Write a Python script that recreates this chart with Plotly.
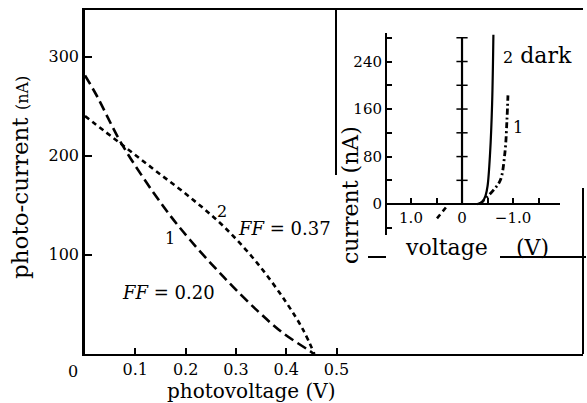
import plotly.graph_objects as go

# ---- main chart data (photovoltage V, photo-current nA) ----
v1 = [0.0, 0.024, 0.074, 0.157, 0.209, 0.275, 0.342, 0.394, 0.447, 0.455]
i1 = [281, 260, 211, 148, 115, 78, 44, 21, 3, 0]
v2 = [0.0, 0.074, 0.14, 0.209, 0.275, 0.342, 0.400, 0.434, 0.456]
i2 = [240, 211, 185, 158, 129, 92, 52, 24, 0]
main_xticks = [0.1, 0.2, 0.3, 0.4, 0.5]
main_yticks = [100, 200, 300]

# ---- inset data (voltage V, current nA) ----
dark_v = [-0.30, -0.40, -0.46, -0.50, -0.55, -0.59, -0.615]
dark_i = [0, 4, 14, 30, 86, 170, 285]
c1_v = [-0.35, -0.49, -0.62, -0.75, -0.84, -0.88, -0.90]
c1_i = [0, 12, 24, 40, 86, 141, 183]
rev_v = [0.49, 0.29]
rev_i = [-24, -3]
zero_axis_i = [0, 40, 80, 120, 160, 200, 240, 280]
inset_xticks = [1.5, 1.0, 0.5, 0.0, -0.5, -1.0, -1.5]
inset_xtext = ["", "1.0", "", "0", "", "\u22121.0", ""]
inset_yticks = [-40, 0, 40, 80, 120, 160, 200, 240, 280]
inset_ytext = ["", "0", "", "80", "", "160", "", "240", ""]

W, H = 587, 403
L, R, T, B = 85, 4, 10, 49
PW, PH = W - L - R, H - T - B
FONT = "DejaVu Serif"


def px(x):
    return (x - L) / PW


def py(y):
    return (H - B - y) / PH


fig = go.Figure()

fig.add_trace(go.Scatter(x=v1, y=i1, mode="lines", line_shape="spline",
                         line=dict(color="black", width=2.6, dash="10px,5px"),
                         showlegend=False))
fig.add_trace(go.Scatter(x=v2, y=i2, mode="lines", line_shape="spline",
                         line=dict(color="black", width=2.6, dash="5px,4px"),
                         showlegend=False))

# inset traces
fig.add_trace(go.Scatter(x=[0] * len(zero_axis_i), y=zero_axis_i, mode="lines+markers",
                         line=dict(color="black", width=2.2),
                         marker=dict(symbol="line-ew-open", size=8, line=dict(width=1.5, color="black")),
                         xaxis="x2", yaxis="y2", showlegend=False))
fig.add_trace(go.Scatter(x=dark_v, y=dark_i, mode="lines", line_shape="spline",
                         line=dict(color="black", width=2.2),
                         xaxis="x2", yaxis="y2", showlegend=False))
fig.add_trace(go.Scatter(x=c1_v, y=c1_i, mode="lines", line_shape="spline",
                         line=dict(color="black", width=2.8, dash="6px,3px,2px,3px"),
                         xaxis="x2", yaxis="y2", showlegend=False))
fig.add_trace(go.Scatter(x=rev_v, y=rev_i, mode="lines",
                         line=dict(color="black", width=2.6, dash="5px,4px"),
                         xaxis="x2", yaxis="y2", showlegend=False))

ann = []


def text(x, y, s, size, angle=0, xanchor="center"):
    ann.append(dict(x=px(x), y=py(y), xref="paper", yref="paper", text=s, showarrow=False,
                    font=dict(family=FONT, size=size, color="black"), textangle=angle,
                    xanchor=xanchor, yanchor="middle"))


text(20, 178, "photo-current <span style='font-size:16px'>(nA)</span>", 23, angle=-90)
text(251, 391, "photovoltage (V)", 20)
text(73, 371, "0", 16)
text(222, 212, "2", 16)
text(284, 228, "<i>FF</i> = 0.37", 18)
text(170, 238, "1", 16)
text(168, 292, "<i>FF</i> = 0.20", 18)
text(537, 55, "<span style='font-size:16px'>2</span> dark", 22)
text(518, 127, "1", 16)
text(350, 195, "current (nA)", 22, angle=-90)
text(446, 247, "voltage", 22)
text(532, 247, "(V)", 22)

shapes = []


def seg(x0, y0, x1, y1, w=2):
    shapes.append(dict(type="line", xref="paper", yref="paper", x0=px(x0), y0=py(y0),
                       x1=px(x1), y1=py(y1), line=dict(color="black", width=w)))


seg(583, 188, 583, 354, 2)
seg(336, 10, 336, 175, 2)
seg(368, 257, 386, 257, 2)
seg(500, 257, 586, 257, 2)

inset_x_dom = [px(387), px(560)]
inset_y_dom = [py(235), py(33)]

fig.update_layout(
    width=W, height=H, autosize=False,
    margin=dict(l=L, r=R, t=T, b=B, autoexpand=False),
    paper_bgcolor="white", plot_bgcolor="white",
    font=dict(family=FONT, color="black"),
    annotations=ann, shapes=shapes,
    xaxis=dict(range=[0, 0.99], showgrid=False, zeroline=False, showline=True, automargin=False,
               linecolor="black", linewidth=2, mirror=True,
               ticks="inside", ticklen=6, tickwidth=1.5, tickcolor="black",
               tickvals=main_xticks, ticktext=[f"{t:.1f}" for t in main_xticks],
               tickfont=dict(family=FONT, size=16)),
    yaxis=dict(range=[0, 347], showgrid=False, zeroline=False, showline=True, automargin=False,
               linecolor="black", linewidth=2.6,
               ticks="inside", ticklen=7, tickwidth=1.5, tickcolor="black",
               tickvals=main_yticks, ticktext=[str(t) for t in main_yticks],
               tickfont=dict(family=FONT, size=16)),
    xaxis2=dict(domain=inset_x_dom, range=[1.47, -1.92], anchor="free", position=py(204),
                automargin=False,
                showgrid=False, zeroline=False, showline=True, linecolor="black", linewidth=2,
                ticks="inside", ticklen=5, tickwidth=1.5, tickcolor="black",
                tickvals=inset_xticks, ticktext=inset_xtext,
                tickfont=dict(family=FONT, size=15)),
    yaxis2=dict(domain=inset_y_dom, range=[-52, 288], anchor="x2", automargin=False,
                showgrid=False, zeroline=False, showline=True, linecolor="black", linewidth=2,
                ticks="inside", ticklen=5, tickwidth=1.5, tickcolor="black",
                tickvals=inset_yticks, ticktext=inset_ytext,
                tickfont=dict(family=FONT, size=15)),
)

fig.write_html("out.html", config={"displayModeBar": False},
               post_script="document.body.style.margin='0';document.body.style.padding='0';")
